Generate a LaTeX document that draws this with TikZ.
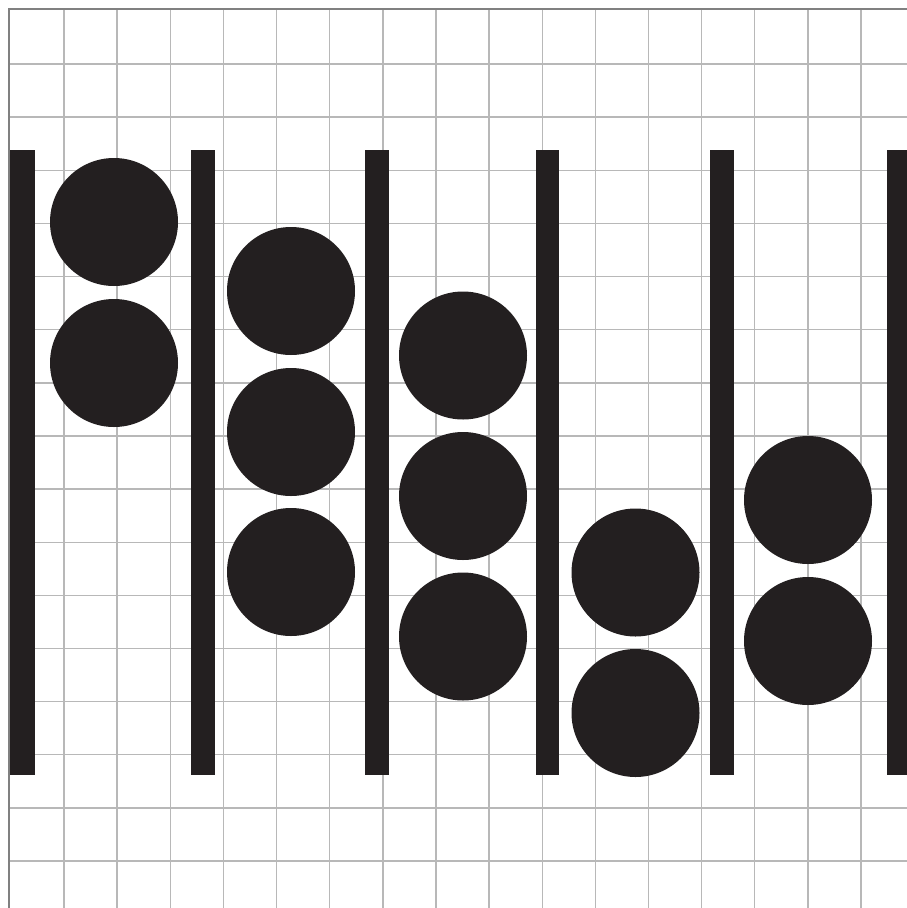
\documentclass[tikz,border=0pt]{standalone}
\begin{document}
\begin{tikzpicture}[x=1pt,y=-1pt,
  gridline/.style={draw=black!28,line width=1.4pt},
  frameline/.style={draw=black!50,line width=2pt},
  ink/.style={fill=inkcol},
]
\definecolor{inkcol}{HTML}{231F20}
\useasboundingbox (0,0) rectangle (907,908);
\fill[white] (0,0) rectangle (907,908);
% grid
\foreach \k in {1,...,16}{
  \pgfmathsetmacro{\p}{10.9+53.13*\k}
  \draw[gridline] (\p,9) -- (\p,908);
  \draw[gridline] (8.5,\p) -- (907,\p);
}
% frame (left and top)
\draw[frameline] (8.5,908) -- (8.5,9) -- (907,9);
% bars
\foreach \a/\b in {10/35,191/215,365/389,536/559,710/734,887/911}{
  \fill[ink] (\a,150) rectangle (\b,775);
}
% discs
\foreach \cx/\cy in {114/222,114/363,
  291/291,291/432,291/572,
  463/355.5,463/496,463/636.5,
  635.5/572.5,635.5/713,
  808/500,808/641}{
  \fill[ink] (\cx,\cy) circle (64);
}
\end{tikzpicture}
\end{document}
